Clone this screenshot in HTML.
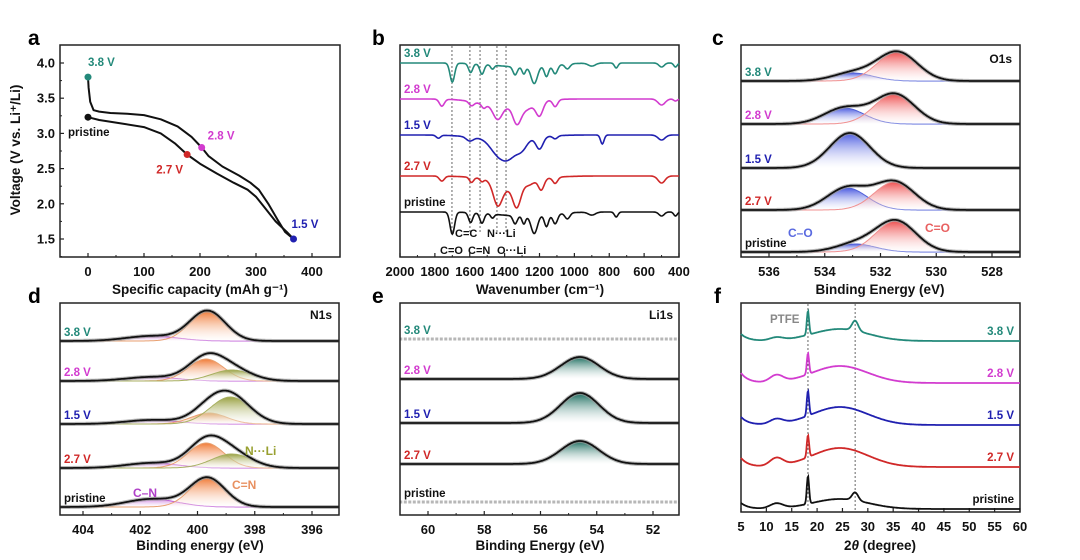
<!DOCTYPE html>
<html><head><meta charset="utf-8">
<style>
html,body{margin:0;padding:0;background:#fff;}
svg{display:block;font-family:"Liberation Sans",Arial,sans-serif;}
text{font-weight:bold;}
</style></head>
<body>
<svg id="fig" width="1080" height="560" viewBox="0 0 1080 560" xmlns="http://www.w3.org/2000/svg">
<defs id="defs">
<linearGradient id="gRed" x1="0" y1="0" x2="0" y2="1"><stop offset="0" stop-color="#ee5050"/><stop offset="1" stop-color="#ffffff" stop-opacity="0.3"/></linearGradient>
<linearGradient id="gBlue" x1="0" y1="0" x2="0" y2="1"><stop offset="0" stop-color="#4a5ae0"/><stop offset="1" stop-color="#ffffff" stop-opacity="0.3"/></linearGradient>
<linearGradient id="gOrange" x1="0" y1="0" x2="0" y2="1"><stop offset="0" stop-color="#f07a36"/><stop offset="1" stop-color="#ffffff" stop-opacity="0.3"/></linearGradient>
<linearGradient id="gOlive" x1="0" y1="0" x2="0" y2="1"><stop offset="0" stop-color="#98a040"/><stop offset="1" stop-color="#ffffff" stop-opacity="0.3"/></linearGradient>
<linearGradient id="gPurple" x1="0" y1="0" x2="0" y2="1"><stop offset="0" stop-color="#d080e0"/><stop offset="1" stop-color="#ffffff" stop-opacity="0.3"/></linearGradient>
<linearGradient id="gTeal" x1="0" y1="0" x2="0" y2="1"><stop offset="0" stop-color="#176a5c"/><stop offset="1" stop-color="#ffffff" stop-opacity="0.3"/></linearGradient>
</defs>
</svg>
<script>
// ---------- data ----------
const seriesLabels=['3.8 V','2.8 V','1.5 V','2.7 V','pristine'];
const seriesColors=['#23897a','#d23ccf','#2020b0','#d02828','#111111'];
// panel a
const aChargeCap=[367,352,338,322,305,290,270,240,215,203,185,160,130,100,70,40,20,10,4,1,0];
const aChargeV=[1.5,1.6,1.78,2.0,2.2,2.3,2.4,2.53,2.68,2.8,2.95,3.1,3.2,3.26,3.28,3.29,3.31,3.33,3.45,3.65,3.8];
const aDisCap=[0,20,60,100,130,155,177,200,230,260,285,300,315,335,355,367];
const aDisV=[3.23,3.19,3.14,3.09,3.0,2.86,2.7,2.57,2.43,2.3,2.2,2.1,1.95,1.75,1.6,1.5];
const aPtCap=[0,0,177,203,367];
const aPtV=[3.8,3.23,2.7,2.8,1.5];
const aPtLabels=['3.8 V','pristine','2.7 V','2.8 V','1.5 V'];
const aXTicks=[0,100,200,300,400];
const aYTicks=[1.5,2.0,2.5,3.0,3.5,4.0];
// panel b (FTIR) dips: [wavenumber, depth, width]
const bOffsets=[194,158,122,81,45];
const bDip38=[[1700,19,13],[1595,9,12],[1530,10,12],[1470,4,10],[1340,8,12],[1290,7,10],[1230,17,18],[1160,11,12],[1110,9,14],[1040,5,14],[1300,4,150],[900,3,20],[760,5,10],[500,4,15],[420,4,10]];
const bDip28=[[1760,7,14],[1590,4,14],[1520,4,12],[1440,13,25],[1330,16,22],[1400,8,130],[1200,14,20],[1110,7,14],[1280,6,40],[500,6,20],[420,2,10]];
const bDip15=[[1780,3,12],[1600,4,20],[1450,10,40],[1380,18,45],[1300,9,30],[1200,12,20],[1110,3,14],[1400,5,150],[840,9,10],[500,5,20]];
const bDip27=[[1760,5,14],[1590,5,12],[1530,3,10],[1440,21,25],[1330,21,22],[1380,8,60],[1190,11,16],[1110,6,14],[1260,4,30],[1350,5,150],[500,7,20]];
const bDipPr=[[1700,22,13],[1595,10,12],[1530,10,12],[1470,4,10],[1340,8,12],[1290,8,10],[1230,18,18],[1160,12,12],[1110,10,14],[1040,6,14],[1300,4,150],[900,3,20],[760,5,10],[500,4,15],[420,4,10]];
const bMarkers=[1702,1599,1541,1444,1392];
const bXTicks=[2000,1800,1600,1400,1200,1000,800,600,400];
// panel c (O1s)
const cOffsets=[176,133,89,47,5];
const cCOCenter=[533.0,533.3,533.1,533.2,532.9];
const cCOHeight=[8,16,35,22,8];
const cCdOCenter=[531.4,531.5,531.5,531.5,531.45];
const cCdOHeight=[29,30,0,28,31];
const cXTicks=[536,534,532,530,528];
// panel d (N1s)
const dOffsets=[174,134,91,47,8];
const dCNHeight=[5,4,4,5,8];
const dCdNHeight=[30,22,11,25,29];
const dNLiHeight=[0,11,27,14,0];
const dCdNCenter=[399.65,399.7,399.6,399.7,399.65];
const dNLiCenter=[398.8,398.8,398.85,398.8,398.8];
const dXTicks=[404,402,400,398,396];
// panel e (Li1s)
const eOffsets=[176,136,92,51,13];
const eHeight=[0,22,30,23,0];
const eCenter=[54.6,54.6,54.6,54.6,54.6];
const eXTicks=[60,58,56,54,52];
// panel f (XRD)
const fOffsets=[171,129,87,45,3];
const fLeft=[7,10,8,9,6];
const f12=[3,7,5,8,5];
const fHump=[12,17,18,19,10];
const fSharp=[24,21,25,22,28];
const f27=[10,0,0,0,8];
const fXTicks=[5,10,15,20,25,30,35,40,45,50,55,60];

// ---------- helpers ----------
const NS='http://www.w3.org/2000/svg';
const svg=document.getElementById('fig');
const defs=document.getElementById('defs');
function lin(d0,d1,r0,r1){return v=>r0+(v-d0)*(r1-r0)/(d1-d0);}
function gs(x,c,s){return Math.exp(-0.5*((x-c)/s)*((x-c)/s));}
function mk(tag,attrs,parent){const e=document.createElementNS(NS,tag);for(const k in attrs)e.setAttribute(k,attrs[k]);(parent||svg).appendChild(e);return e;}
function txt(s,x,y,size,fill,anchor,parent){const t=mk('text',{x:x,y:y,'font-size':size,fill:fill||'#111','text-anchor':anchor||'start'},parent);t.textContent=s;return t;}
function pathD(pts){return pts.map((p,i)=>(i?'L':'M')+p[0].toFixed(1)+' '+p[1].toFixed(1)).join('');}
function sample(x0,x1,n,f){const a=[];for(let i=0;i<=n;i++){const x=x0+(x1-x0)*i/n;a.push([x,f(x)]);}return a;}
function clipGroup(id,x0,y0,x1,y1){const cp=mk('clipPath',{id:id},defs);mk('rect',{x:x0,y:y0,width:x1-x0,height:y1-y0},cp);const g=mk('g',{'clip-path':'url(#'+id+')'});return g;}
function box(x0,y0,x1,y1,name){const r=mk('rect',{x:x0,y:y0,width:x1-x0,height:y1-y0,fill:'none',stroke:'#222','stroke-width':1.5});}
function xAxis(ticks,xs,yb,ty,minorStep,x0,x1,name){
  const g=mk('g',{});
  ticks.forEach(t=>{const x=xs(t);mk('line',{x1:x,x2:x,y1:yb,y2:yb-4,stroke:'#222','stroke-width':1.2},g);txt(String(t),x,ty,13,'#111','middle',g);});
  if(minorStep){for(let i=0;i<ticks.length-1;i++){const m=(ticks[i]+ticks[i+1])/2;const x=xs(m);mk('line',{x1:x,x2:x,y1:yb,y2:yb-2,stroke:'#222','stroke-width':1},g);}
    const lo=ticks[0]-(ticks[1]-ticks[0])/2,hi=ticks[ticks.length-1]+(ticks[1]-ticks[0])/2;[lo,hi].forEach(m=>{const x=xs(m);if(x>x0&&x<x1)mk('line',{x1:x,x2:x,y1:yb,y2:yb-2,stroke:'#222','stroke-width':1},g);});}
}
function panelLetter(l,x,y){const t=txt(l,x,y,21,'#000','start');}
function title(s,x,y,name){const t=txt(s,x,y,13.5,'#111','middle');return t;}

// ---------- panel a ----------
(function(){
  const xs=lin(0,400,88,312), ys=lin(1.5,4.0,239,63);
  box(60,45,340,257,'panel-a-plot-area');
  panelLetter('a',28,45);
  const g=mk('g',{});
  aYTicks.forEach(t=>{const y=ys(t);mk('line',{x1:60,x2:64,y1:y,y2:y,stroke:'#222','stroke-width':1.2},g);txt(t.toFixed(1),55,y+4.5,13,'#111','end',g);});
  for(let i=0;i<aYTicks.length;i++){const y=ys(aYTicks[i]+0.25);if(y>46)mk('line',{x1:60,x2:62,y1:y,y2:y,stroke:'#222'},g);}
  {const y=ys(1.25);mk('line',{x1:60,x2:62,y1:y,y2:y,stroke:'#222'},g);}
  xAxis(aXTicks,xs,257,276,50,60,340,'x-axis-a');
  title('Specific capacity (mAh g⁻¹)',200,294,'x-axis-title-a');
  const yt=txt('Voltage (V vs. Li⁺/Li)',0,0,13.5,'#111','middle');yt.setAttribute('transform','translate(20,150) rotate(-90)');
  
  const c1=mk('path',{d:pathD(aChargeCap.map((c,i)=>[xs(c),ys(aChargeV[i])])),fill:'none',stroke:'#111','stroke-width':2,'stroke-linejoin':'round'});
  
  const c2=mk('path',{d:pathD(aDisCap.map((c,i)=>[xs(c),ys(aDisV[i])])),fill:'none',stroke:'#111','stroke-width':2,'stroke-linejoin':'round'});
  
  const ptCol=['#23897a','#111111','#d02828','#d23ccf','#2020b0'];
  const lblOff=[[0,-11,'start'],[-7,18,'end'],[-4,19,'end'],[6,-8,'start'],[-2,-11,'start']];
  aPtCap.forEach((c,i)=>{const x=xs(c),y=ys(aPtV[i]);
    const p=mk('circle',{cx:x,cy:y,r:3.5,fill:ptCol[i]});
    const t=txt(aPtLabels[i],x+lblOff[i][0],y+lblOff[i][1],11.5,ptCol[i],lblOff[i][2]);
    if(i==1){t.setAttribute('x',68);t.setAttribute('y',y+19);t.setAttribute('text-anchor','start');}
    });
})();

// ---------- panel b ----------
(function(){
  const xs=lin(2000,400,400,679), ys=lin(0,212,257,45);
  box(400,45,679,257,'panel-b-plot-area');
  panelLetter('b',372,45);
  xAxis(bXTicks,xs,257,276,100,400,679,'x-axis-b');
  title('Wavenumber (cm⁻¹)',540,294,'x-axis-title-b');
  bMarkers.forEach(w=>{const x=xs(w);const l=mk('line',{x1:x,x2:x,y1:46,y2:232,stroke:'#555','stroke-width':0.9,'stroke-dasharray':'2,2'});});
  const dips=[bDip38,bDip28,bDip15,bDip27,bDipPr];
  dips.forEach((d,i)=>{
    const pts=sample(2000,400,400,w=>{let v=bOffsets[i];d.forEach(k=>{v-=k[1]*gs(w,k[0],k[2]);});return [xs(w),ys(v)];}).map(p=>p[1]);
    const p=mk('path',{d:pathD(pts),fill:'none',stroke:seriesColors[i],'stroke-width':1.6});
    
    const t=txt(seriesLabels[i],404,ys(bOffsets[i])-6,11.5,seriesColors[i],'start');
  });
  txt('C=C',455,237,11,'#111');txt('N···Li',487,237,11,'#111');
  txt('C=O',440,254,11,'#111');txt('C=N',468,254,11,'#111');txt('O···Li',497,254,11,'#111');
})();

// ---------- XPS generic ----------
function xpsPanel(opts){
  const xs=lin(opts.t0,opts.t1,opts.p0,opts.p1), ys=lin(0,212,opts.yb,opts.yb-212);
  const G=clipGroup('clip-'+opts.name,opts.bx0,opts.yb-212,opts.bx1,opts.yb);
  box(opts.bx0,opts.yb-212,opts.bx1,opts.yb,opts.name+'-plot-area');
  xAxis(opts.ticks,xs,opts.yb,opts.yb+19,opts.minor,opts.bx0,opts.bx1,'x-axis-'+opts.name);
  const dlo=opts.d0, dhi=opts.d1;
  opts.series.forEach((comps,i)=>{
    const off=opts.offsets[i];
    comps.forEach(cp=>{
      if(cp.h<=0)return;
      const pts=sample(dlo,dhi,200,x=>[xs(x),ys(off+cp.h*gs(x,cp.c,cp.s))]).map(p=>p[1]);
      const area=pathD(pts)+'L'+xs(dhi)+' '+ys(off)+'L'+xs(dlo)+' '+ys(off)+'Z';
      const a=mk('path',{d:area,fill:cp.fill,stroke:'none'},G);
      const l=mk('path',{d:pathD(pts),fill:'none',stroke:cp.line,'stroke-width':1},G);
    });
    const tot=sample(dlo,dhi,300,x=>{let v=off;comps.forEach(cp=>{v+=cp.h*gs(x,cp.c,cp.s);});return [xs(x),ys(v)];}).map(p=>p[1]);
    const pd=pathD(tot);
    const ro=opts.rawOnly&&opts.rawOnly[i];
    const raw=mk('path',{d:pd,fill:'none',stroke:'#999','stroke-width':ro?3:4,'stroke-dasharray':ro?'3,1.5':'none','stroke-opacity':0.7},G);
    
    if(!ro){const f=mk('path',{d:pd,fill:'none',stroke:'#111','stroke-width':1.8},G);}
    const t=txt(seriesLabels[i],opts.bx0+4,ys(off)-5,11.5,seriesColors[i],'start');
  });
  return xs;
}

// panel c
panelLetter('c',712,45);
xpsPanel({name:'c',t0:536,t1:528,p0:769,p1:992,d0:537.5,d1:526.5,bx0:741,bx1:1020,yb:257,ticks:cXTicks,minor:1,offsets:cOffsets,
  series:seriesLabels.map((s,i)=>[{c:cCOCenter[i],h:cCOHeight[i],s:0.72,fill:'url(#gBlue)',line:'#5060d8'},{c:cCdOCenter[i],h:cCdOHeight[i],s:0.72,fill:'url(#gRed)',line:'#f09090'}])});
title('Binding Energy (eV)',880,294,'x-axis-title-c');
txt('O1s',1012,63,12,'#111','end');
txt('C–O',788,237,12,'#5a6ae0');txt('C=O',925,232,12,'#e86060');

// panel d
panelLetter('d',28,303);
xpsPanel({name:'d',t0:404,t1:396,p0:83,p1:312,d0:405.5,d1:394.5,bx0:60,bx1:339,yb:515,ticks:dXTicks,minor:1,offsets:dOffsets,
  series:seriesLabels.map((s,i)=>[{c:401.6,h:dCNHeight[i],s:0.9,fill:'url(#gPurple)',line:'#c060d8'},{c:dCdNCenter[i],h:dCdNHeight[i],s:0.62,fill:'url(#gOrange)',line:'#e8a070'},{c:dNLiCenter[i],h:dNLiHeight[i],s:0.7,fill:'url(#gOlive)',line:'#a8b060'}])});
title('Binding energy (eV)',200,550,'x-axis-title-d');
txt('N1s',332,319,12,'#111','end');
txt('C–N',133,497,12,'#b040c8');txt('C=N',232,489,12,'#e89060');txt('N···Li',245,455,12,'#98a030');

// panel e
panelLetter('e',372,303);
xpsPanel({name:'e',t0:60,t1:52,p0:428,p1:653,d0:61.5,d1:50.5,bx0:400,bx1:679,yb:515,ticks:eXTicks,minor:1,offsets:eOffsets,rawOnly:[true,false,false,false,true],
  series:seriesLabels.map((s,i)=>[{c:eCenter[i],h:eHeight[i],s:0.68,fill:'url(#gTeal)',line:'#1a6a5c'}])});
title('Binding Energy (eV)',540,550,'x-axis-title-e');
txt('Li1s',673,319,12,'#111','end');

// ---------- panel f ----------
(function(){
  const xs=lin(5,60,741,1020), ys=lin(0,209,512,303);
  box(741,303,1020,512,'panel-f-plot-area');
  panelLetter('f',714,303);
  xAxis(fXTicks,xs,512,531,0,741,1020,'x-axis-f');
  const tt=txt('',880,550,13.5,'#111','middle');tt.innerHTML='2<tspan font-style="italic">θ</tspan> (degree)';
  
  [18.2,27.5].forEach(v=>{const x=xs(v);const l=mk('line',{x1:x,x2:x,y1:304,y2:511,stroke:'#555','stroke-width':0.9,'stroke-dasharray':'2,2'});});
  const rl=['3.8 V','2.8 V','1.5 V','2.7 V','pristine'];
  fOffsets.forEach((off,i)=>{
    const pts=sample(5,60,440,x=>[xs(x),ys(off+fLeft[i]*Math.exp(-(x-5)/1.5)+f12[i]*gs(x,12,1.3)+fHump[i]*gs(x,24.5,5.5)+fSharp[i]*gs(x,18.2,0.22)+f27[i]*gs(x,27.5,0.6))]).map(p=>p[1]);
    const p=mk('path',{d:pathD(pts),fill:'none',stroke:seriesColors[i],'stroke-width':1.8});
    
    const t=txt(rl[i],1014,ys(off)-6,11.5,seriesColors[i],'end');
  });
  txt('PTFE',770,323,11.5,'#888');
})();
</script>
</body></html>
